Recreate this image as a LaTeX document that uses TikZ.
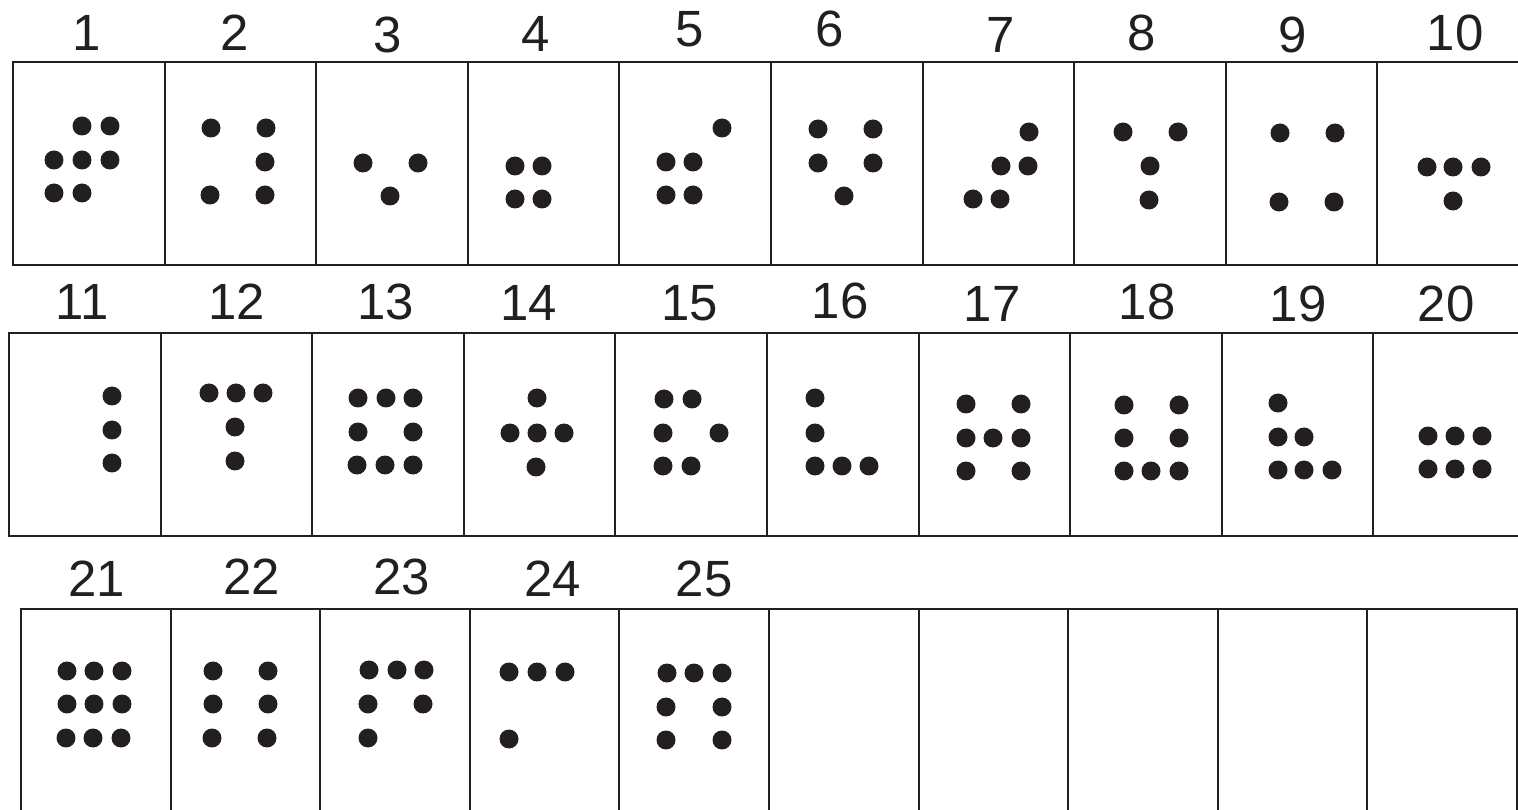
\documentclass[tikz,border=0pt]{standalone}
\usepackage{fontspec}
\setmainfont{Liberation Sans}
\usepackage{tikz}

\definecolor{ink}{RGB}{35,31,32}

% a list of dot centres, drawn as filled discs
\newcommand{\pips}[1]{\foreach \p in {#1} {\fill[pip] \p circle (0.19cm);}}

\begin{document}
\begin{tikzpicture}[x=0.02cm, y=-0.02cm, ink,
    frame/.style={line width=1.6pt},
    divider/.style={line width=1.1pt},
    numlab/.style={anchor=base, inner sep=0pt, text=ink, font=\fontsize{29}{30}\selectfont},
    pip/.style={fill=ink}]

        \useasboundingbox (0,0) rectangle (1518,810);
        \clip (0,0) rectangle (1518,810);

        % ==========================================
        % 1. Row of cards 1--10
        % ==========================================
        \begin{scope}
            % frame and dividers
            \draw[frame] (1520,62) -- (13,62) -- (13,265) -- (1520,265);
            \foreach \i in {1,...,9}
                \draw[divider] ({13+151.6*\i},62) -- ({13+151.6*\i},265);

            % numbers
            \foreach \n/\x/\y in {1/87/51, 2/235/51, 3/388/53, 4/536/52, 5/690/47,
                                  6/830/47, 7/1001/53, 8/1142/51, 9/1293/53, 10/1455/51}
                \node[numlab] (lab\n) at (\x,\y) {\n};

            % dots
            \pips{(82,126),(110,126),(54,160),(82,160),(110,160),(54,193),(82,193)}
            \pips{(211,128),(266,128),(265,162),(210,195),(265,195)}
            \pips{(363,163),(418,163),(390,196)}
            \pips{(515,166),(542,166),(515,199),(542,199)}
            \pips{(722,128),(666,162),(693,162),(666,195),(693,195)}
            \pips{(818,129),(873,129),(818,163),(873,163),(844,196)}
            \pips{(1029,132),(1001,166),(1028,166),(973,199),(1000,199)}
            \pips{(1123,132),(1178,132),(1150,166),(1149,200)}
            \pips{(1280,133),(1335,133),(1279,202),(1334,202)}
            \pips{(1427,167),(1453,167),(1481,167),(1453,201)}
        \end{scope}

        % ==========================================
        % 2. Row of cards 11--20
        % ==========================================
        \begin{scope}
            \draw[frame] (1520,333) -- (9,333) -- (9,536) -- (1520,536);
            \foreach \i in {1,...,9}
                \draw[divider] ({9+151.6*\i},333) -- ({9+151.6*\i},536);

            \foreach \n/\x/\y in {11/82/320, 12/237/320, 13/386/320, 14/529/321, 15/690/321,
                                  16/840/319, 17/992/322, 18/1147/320, 19/1298/322, 20/1446/322}
                \node[numlab] (lab\n) at (\x,\y) {\n};

            \pips{(112,396),(112,430),(112,463)}
            \pips{(209,393),(236,393),(263,393),(235,427),(235,461)}
            \pips{(358,398),(386,398),(413,398),(358,432),(413,432),(357,465),(385,465),(413,465)}
            \pips{(537,398),(510,433),(537,433),(564,433),(536,467)}
            \pips{(664,399),(692,399),(663,433),(719,433),(663,466),(691,466)}
            \pips{(815,398),(815,433),(815,466),(842,466),(869,466)}
            \pips{(966,404),(1021,404),(966,438),(993,438),(1021,438),(966,471),(1021,471)}
            \pips{(1124,405),(1179,405),(1124,438),(1179,438),(1124,471),(1151,471),(1179,471)}
            \pips{(1278,403),(1278,437),(1304,437),(1278,470),(1304,470),(1332,470)}
            \pips{(1428,436),(1455,436),(1482,436),(1428,469),(1455,469),(1482,469)}
        \end{scope}

        % ==========================================
        % 3. Row of cards 21--25 (+ five empty)
        % ==========================================
        \begin{scope}
            \draw[frame] (21,820) -- (21,609) -- (1517,609) -- (1517,820);
            \foreach \i in {1,...,9}
                \draw[divider] ({21+149.6*\i},609) -- ({21+149.6*\i},820);

            \foreach \n/\x/\y in {21/97/597, 22/252/595, 23/402/595, 24/553/597, 25/704/597}
                \node[numlab] (lab\n) at (\x,\y) {\n};

            \pips{(67,671),(94,671),(122,671),(67,704),(94,704),(122,704),(66,738),(93,738),(121,738)}
            \pips{(213,671),(268,671),(213,704),(268,704),(212,738),(267,738)}
            \pips{(369,670),(397,670),(424,670),(368,704),(423,704),(368,738)}
            \pips{(509,672),(537,672),(565,672),(509,739)}
            \pips{(667,673),(694,673),(722,673),(666,707),(722,707),(666,740),(722,740)}
        \end{scope}

\end{tikzpicture}
\end{document}
